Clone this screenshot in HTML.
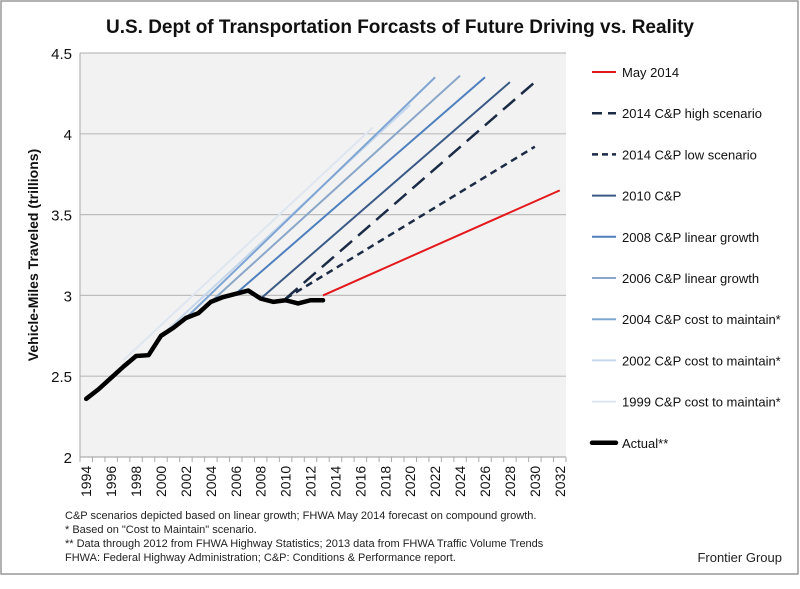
<!DOCTYPE html>
<html><head><meta charset="utf-8"><style>
body{margin:0;background:#fff;font-family:"Liberation Sans",sans-serif}
svg text{font-family:"Liberation Sans",sans-serif}
</style></head><body>
<svg id="c" width="800" height="584" xmlns="http://www.w3.org/2000/svg">
<rect x="1" y="1" width="797" height="573" fill="#fff" stroke="#999" stroke-width="1.5"/>
<text x="400" y="33" text-anchor="middle" font-size="19" font-weight="bold" fill="#111">U.S. Dept of Transportation Forcasts of Future Driving vs. Reality</text>
<text transform="translate(38,255) rotate(-90)" text-anchor="middle" font-size="14" font-weight="bold" fill="#111">Vehicle-Miles Traveled (trillions)</text>
<g id="plot"></g>
<g id="legend"></g>
<g font-size="11" fill="#222">
<text x="65" y="519">C&amp;P scenarios depicted based on linear growth; FHWA May 2014 forecast on compound growth.</text>
<text x="65" y="533">* Based on "Cost to Maintain" scenario.</text>
<text x="65" y="547">** Data through 2012 from FHWA Highway Statistics; 2013 data from FHWA Traffic Volume Trends</text>
<text x="65" y="561">FHWA: Federal Highway Administration; C&amp;P: Conditions &amp; Performance report.</text>
</g>
<text x="782" y="562" text-anchor="end" font-size="13" fill="#222">Frontier Group</text>
</svg>
<script>
const years=[];for(let y=1994;y<=2032;y++)years.push(y);
const yTicks=[2,2.5,3,3.5,4,4.5];
const actualYears=[1994,1995,1996,1997,1998,1999,2000,2001,2002,2003,2004,2005,2006,2007,2008,2009,2010,2011,2012,2013];
const actualValues=[2.36,2.42,2.49,2.56,2.625,2.63,2.75,2.80,2.86,2.89,2.96,2.99,3.01,3.03,2.98,2.96,2.97,2.95,2.97,2.97];
const seriesNames=["May 2014","2014 C&P high scenario","2014 C&P low scenario","2010 C&P","2008 C&P linear growth","2006 C&P linear growth","2004 C&P cost to maintain*","2002 C&P cost to maintain*","1999 C&P cost to maintain*"];
const startYears=[2013,2010,2010,2008,2006,2004,2002,2000,1997];
const startValues=[3.0,2.98,2.98,2.98,3.01,2.96,2.86,2.75,2.60];
const endYears=[2032,2030,2030,2028,2026,2024,2022,2020,2017];
const endValues=[3.65,4.32,3.92,4.32,4.35,4.36,4.35,4.18,4.04];
const colors=["#e3191c","#1c2b45","#1c2b45","#3a5a85","#4f80bd","#8aa7c9","#7fa5d3","#c6d7eb","#dfe6f0"];
const dashes=["","16,8","7,5","","","","","",""];
const widths=[2,2.5,2.5,2,2,2,2,2,2];
const NS="http://www.w3.org/2000/svg";
const L=80,R=566,T=53,B=457,yMin=2,yMax=4.5;
const bw=(R-L)/years.length;
const X=y=>L+bw*(y-years[0]+0.5);
const Y=v=>B-(v-yMin)/(yMax-yMin)*(B-T);
function el(p,t,a){const e=document.createElementNS(NS,t);for(const k in a)e.setAttribute(k,a[k]);p.appendChild(e);return e;}
const plot=document.getElementById('plot');
const bg=el(plot,'rect',{x:L,y:T,width:R-L,height:B-T,fill:'#f2f2f2'});


yTicks.forEach(t=>{
 const g=el(plot,'line',{x1:L,x2:R,y1:Y(t),y2:Y(t),stroke:'#bdbdbd','stroke-width':1.2});
 
 
 const tx=el(plot,'text',{x:L-8,y:Y(t)+6,'text-anchor':'end','font-size':15,fill:'#111'});
 tx.textContent=String(t);
 
 
});
const ax=el(plot,'line',{x1:L,x2:L,y1:T,y2:B,stroke:'#aaa'});


const xa=el(plot,'line',{x1:L,x2:R,y1:B,y2:B,stroke:'#aaa'});


for(let i=0;i<=years.length;i++){
 const tk=el(plot,'line',{x1:L+bw*i,x2:L+bw*i,y1:B,y2:B+5,stroke:'#aaa'});
 
 
}
years.forEach(y=>{if(y%2)return;
 const tx=el(plot,'text',{transform:`translate(${X(y)+5},${B+40}) rotate(-90)`,'font-size':14,fill:'#111'});
 tx.textContent=String(y);
 
 
});
for(let i=seriesNames.length-1;i>=0;i--){
 const ln=el(plot,'line',{x1:X(startYears[i]),y1:Y(startValues[i]),x2:X(endYears[i]),y2:Y(endValues[i]),stroke:colors[i],'stroke-width':widths[i],'stroke-dasharray':dashes[i]});
 
 
}
const act=el(plot,'polyline',{points:actualYears.map((y,i)=>X(y)+','+Y(actualValues[i])).join(' '),fill:'none',stroke:'#000','stroke-width':4.5,'stroke-linejoin':'round','stroke-linecap':'round'});


const lg=document.getElementById('legend');
const names=seriesNames.concat(["Actual**"]);
names.forEach((n,i)=>{
 const yy=72+i*41.2;
 const isA=i===names.length-1;
 const ln=el(lg,'line',{x1:592,x2:616,y1:yy,y2:yy,stroke:isA?'#000':colors[i],'stroke-width':isA?4.5:widths[i],'stroke-dasharray':isA?'':(i===1?'10,6':i===2?'6,4':''),'stroke-linecap':isA?'round':'butt'});
 
 
 const tx=el(lg,'text',{x:622,y:yy+5,'font-size':13,fill:'#111'});
 tx.textContent=n;
 
 
});
</script>
</body></html>
